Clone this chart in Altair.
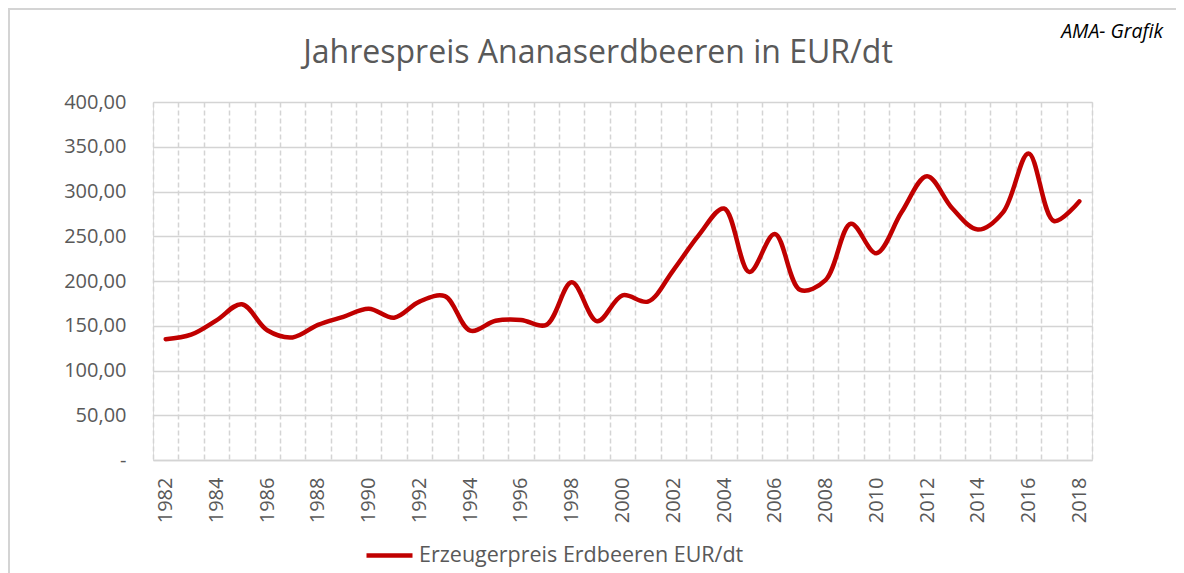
import altair as alt
import pandas as pd

years = list(range(1982, 2019))
prices = [135, 140, 156, 174, 145, 137, 151, 160, 169, 159, 177, 183,
          144.5, 155.5, 156.5, 151, 198.5, 155, 184, 177, 212, 251,
          281, 210, 252.5, 190, 201, 264, 231, 277, 317, 281, 257.5,
          277, 342.5, 267, 289]
series_name = "Erzeugerpreis Erdbeeren EUR/dt"
title_text = "Jahrespreis Ananaserdbeeren in EUR/dt"
note_text = "AMA- Grafik"
y_ticks = [0, 50, 100, 150, 200, 250, 300, 350, 400]

df = pd.DataFrame({"Jahr": years, "Preis": prices, "Serie": [series_name] * len(years)})

FONT = "Open Sans"
GRAY = "#595959"
GRID = "#d4d4d4"

line = alt.Chart(df).mark_line(
    interpolate="catmull-rom", strokeWidth=4.5, strokeCap="round"
).encode(
    x=alt.X(
        "Jahr:O",
        title=None,
        scale=alt.Scale(paddingInner=0, paddingOuter=0),
        axis=alt.Axis(
            tickBand="extent",
            grid=True,
            gridDash=[5, 3],
            gridColor=GRID,
            gridWidth=1.5,
            ticks=False,
            domainColor=GRID,
            domainWidth=1.5,
            labelAngle=270,
            labelPadding=17,
            labelFont=FONT,
            labelFontSize=20,
            labelColor=GRAY,
            labelExpr="toNumber(datum.value) % 2 == 0 ? datum.label : ''",
        ),
    ),
    y=alt.Y(
        "Preis:Q",
        title=None,
        scale=alt.Scale(domain=[0, 400], nice=False),
        axis=alt.Axis(
            values=y_ticks,
            grid=True,
            gridColor=GRID,
            gridWidth=1.5,
            domain=False,
            ticks=False,
            labelPadding=27,
            labelFont=FONT,
            labelFontSize=20,
            labelColor=GRAY,
            labelExpr="datum.value == 0 ? '-\u00a0\u00a0\u00a0\u00a0\u00a0' : replace(format(datum.value, '.2f'), '.', ',')",
        ),
    ),
    color=alt.Color(
        "Serie:N",
        title=None,
        scale=alt.Scale(domain=[series_name], range=["#c00000"]),
        legend=alt.Legend(
            orient="none",
            legendX=211,
            legendY=428,
            symbolType="stroke",
            symbolSize=2116,
            symbolStrokeWidth=4.5,
            labelOffset=4,
            labelLimit=0,
            labelFont=FONT,
            labelFontSize=21.5,
            labelColor=GRAY,
            padding=0,
        ),
    ),
)

one = pd.DataFrame({"t": [title_text], "n": [note_text]})

title = alt.Chart(one).mark_text(
    font=FONT, fontSize=32, color=GRAY, align="center", baseline="alphabetic"
).encode(text="t:N", x=alt.value(445), y=alt.value(-39))

note = alt.Chart(one).mark_text(
    font=FONT, fontSize=19.5, fontStyle="italic", color="#000000",
    align="right", baseline="alphabetic"
).encode(text="n:N", x=alt.value(1010), y=alt.value(-64))

frame = alt.Chart(one).mark_rect(fill="transparent", stroke=GRID, strokeWidth=2).encode(
    x=alt.value(-144), x2=alt.value(1100), y=alt.value(-93), y2=alt.value(520)
)

chart = alt.layer(frame, line, title, note).properties(
    width=939,
    height=358,
    autosize=alt.AutoSizeParams(type="none"),
    padding={"left": 145, "top": 94, "right": 84, "bottom": 113},
).configure_view(stroke=None).configure(background="white")

chart.save("out.html", embed_options={"renderer": "svg", "actions": False})
